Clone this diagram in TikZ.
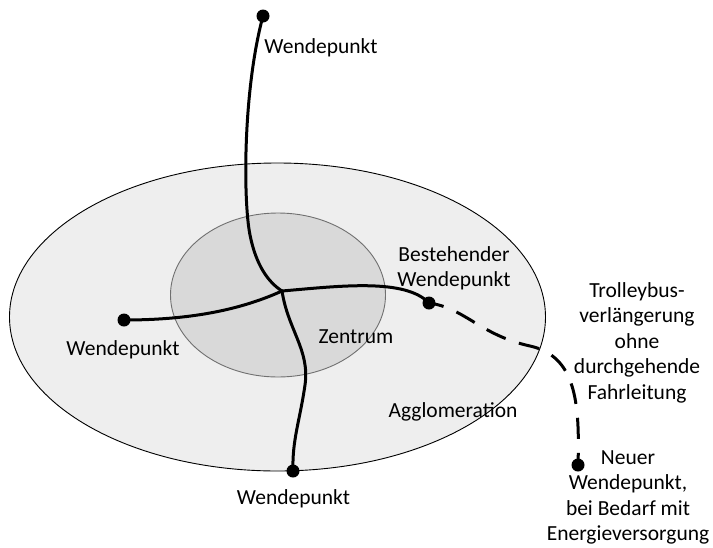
\documentclass[tikz,border=0pt]{standalone}
\usepackage{fontspec}
\setmainfont{Carlito}
\usetikzlibrary{positioning}
\definecolor{agglogray}{HTML}{EEEEEE}
\definecolor{centergray}{HTML}{D9D9D9}
\definecolor{rimgray}{HTML}{707070}

\begin{document}
\begin{tikzpicture}[
    x=1pt,y=-1pt,
    font=\fontsize{21.5}{25.5}\selectfont,
    terminus/.style={circle,fill=black,inner sep=0pt,minimum size=13pt},
    trolley/.style={line width=3pt,line cap=round},
    extension/.style={line width=3pt,dash pattern=on 21pt off 14pt,dash phase=6pt},
    caption/.style={align=center,inner sep=0pt}
  ]
    \useasboundingbox (0,0) rectangle (713,547);

    % Agglomeration und Zentrum
    \filldraw[fill=agglogray,draw=black,line width=0.9pt] (277.5,317)
      ellipse [x radius=268,y radius=154];
    \filldraw[fill=centergray,draw=rimgray,line width=0.9pt] (278,295)
      ellipse [x radius=107.5,y radius=82];

    % Wendepunkte
    \coordinate (hub) at (282,291);
    \node[terminus] (north) at (263,16) {};
    \node[terminus] (west) at (124,320) {};
    \node[terminus] (south) at (293,471) {};
    \node[terminus] (existing) at (429,303) {};
    \node[terminus] (new) at (578,465) {};

    % Trolleybuslinien
    \draw[trolley] (north.center) .. controls (243,90) and (243,200) .. (250,235)
      .. controls (256,265) and (268,282) .. (hub);
    \draw[trolley] (west.center) .. controls (190,320) and (240,310) .. (hub);
    \draw[trolley] (hub) .. controls (340,286) and (405,278) .. (existing.center);
    \draw[trolley] (hub) .. controls (288,330) and (310,350) .. (305,385)
      .. controls (300,420) and (292,440) .. (south.center);
    \draw[extension] (existing.center) .. controls (465,308) and (480,335) .. (530,346)
      .. controls (575,356) and (580,400) .. (new.center);

    % Beschriftungen
    \node[caption,anchor=base] (northtext) at (321,53) {Wendepunkt};
    \node[caption,anchor=base] (westtext) at (123,355) {Wendepunkt};
    \node[caption,anchor=base] (southtext) at (293.5,504) {Wendepunkt};
    \node[caption,anchor=base] (centre) at (356,343) {Zentrum};
    \node[caption,anchor=base] (agglo) at (453,417) {Agglomeration};
    \node[caption,anchor=north] (existingtext) at (454,246) {Bestehender\\Wendepunkt};
    \node[caption,anchor=north] (gaptext) at (637,282) {Trolleybus-\\verlängerung\\ohne\\durchgehende\\Fahrleitung};
    \node[caption,anchor=north] (newtext) at (628,450) {Neuer\\Wendepunkt,\\bei Bedarf mit\\Energieversorgung};
  \end{tikzpicture}
\end{document}
